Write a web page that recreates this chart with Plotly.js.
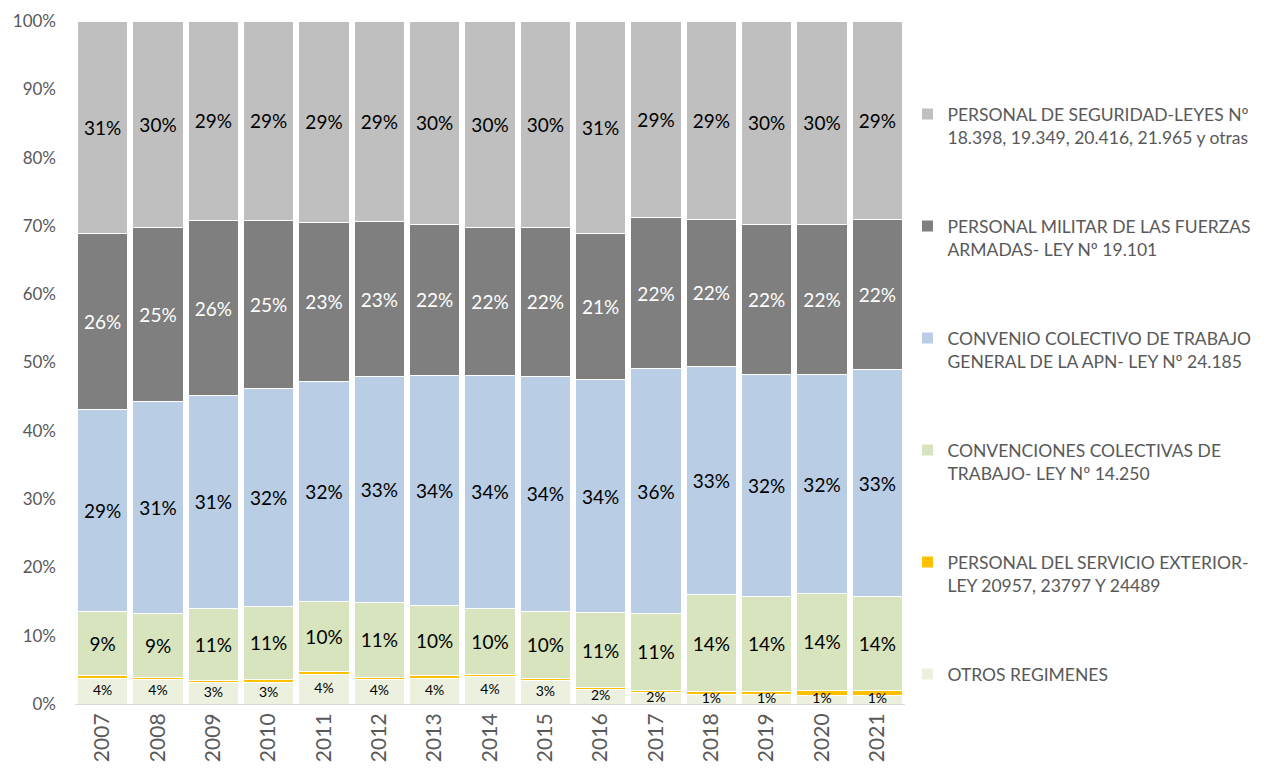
<!DOCTYPE html>
<html>
<head>
<meta charset="utf-8">
<script src="https://cdn.plot.ly/plotly-3.0.1.min.js"></script>
<style>html,body{margin:0;padding:0;background:#fff;}#chart{width:1269px;height:776px;}</style>
</head>
<body>
<div id="chart"></div>
<script>
const years = ['2007','2008','2009','2010','2011','2012','2013','2014','2015','2016','2017','2018','2019','2020','2021'];
const otros        = [3.8, 3.6, 3.1, 3.2, 4.3, 3.6, 3.8, 4.0, 3.45, 2.1, 1.65, 1.45, 1.4, 1.3, 1.25];
const exterior     = [0.35, 0.35, 0.35, 0.4, 0.4, 0.35, 0.4, 0.35, 0.35, 0.35, 0.4, 0.4, 0.4, 0.75, 0.7];
const convenciones = [9.46, 9.35, 10.6, 10.74, 10.27, 10.85, 10.26, 9.66, 9.8, 10.9, 11.15, 14.15, 14.0, 14.15, 13.75];
const apn          = [29.45, 31.0, 31.1, 31.8, 32.2, 33.1, 33.7, 34.1, 34.4, 34.1, 35.9, 33.4, 32.4, 32.0, 33.25];
const militar      = [25.9, 25.4, 25.6, 24.6, 23.4, 22.7, 22.0, 21.7, 21.8, 21.4, 22.1, 21.6, 22.0, 22.0, 21.95];
const seguridad    = [31.04, 30.3, 29.25, 29.26, 29.43, 29.4, 29.84, 30.19, 30.2, 31.15, 28.8, 29.0, 29.8, 29.8, 29.1];

const names = [
  'OTROS REGIMENES',
  'PERSONAL DEL SERVICIO EXTERIOR-<br>LEY 20957, 23797 Y 24489',
  'CONVENCIONES COLECTIVAS DE<br>TRABAJO- LEY Nº 14.250',
  'CONVENIO COLECTIVO DE TRABAJO<br>GENERAL DE LA APN- LEY Nº 24.185',
  'PERSONAL MILITAR DE LAS FUERZAS<br>ARMADAS- LEY Nº 19.101',
  'PERSONAL DE SEGURIDAD-LEYES Nº<br>18.398, 19.349, 20.416, 21.965 y otras'
];
const colors = ['#EBF1DE', '#FFC000', '#D7E4BD', '#B9CDE5', '#7F7F7F', '#BFBFBF'];
const series = [otros, exterior, convenciones, apn, militar, seguridad];
const textColors = ['#000000', '#000000', '#000000', '#000000', '#FFFFFF', '#000000'];
const textSizes = [14, 14, 19, 19, 19, 19];

const FONT = 'Lato, "Open Sans", sans-serif';

const traces = series.map((vals, i) => ({
  type: 'bar',
  x: years,
  y: vals,
  name: names[i],
  legendgroup: 'g' + i,
  legendrank: 10 - i,
  marker: {color: colors[i], line: {color: '#FFFFFF', width: 1}},
  texttemplate: (i <= 1) ? '' : '%{y:.0f}%',
  textposition: (i <= 1) ? 'none' : 'inside',
  insidetextanchor: 'middle',
  textangle: 0,
  textfont: {family: FONT, size: textSizes[i], color: textColors[i]},
  hoverinfo: 'skip'
}));

// labels of the thin bottom segment, centred in it and allowed to overflow
traces.push({
  type: 'scatter',
  mode: 'text',
  x: years,
  y: otros.map(v => v / 2),
  text: otros.map(v => Math.round(v) + '%'),
  textposition: 'middle center',
  textfont: {family: FONT, size: 14, color: '#000000'},
  showlegend: false,
  hoverinfo: 'skip'
});

const layout = {
  width: 1269, height: 776,
  barmode: 'stack',
  bargap: 0.09,
  paper_bgcolor: '#FFFFFF',
  plot_bgcolor: '#FFFFFF',
  margin: {l: 75, r: 364, t: 21, b: 72, pad: 0},
  font: {family: FONT, color: '#595959'},
  xaxis: {
    type: 'category',
    range: [-0.5, years.length - 0.5],
    tickangle: -90,
    tickfont: {family: FONT, size: 21, color: '#595959'},
    showline: true, linecolor: '#D9D9D9', linewidth: 1,
    ticks: '', showgrid: false, zeroline: false,
    fixedrange: true
  },
  yaxis: {
    range: [0, 100],
    dtick: 10,
    ticksuffix: '%',
    tickfont: {family: FONT, size: 17, color: '#595959'},
    ticklabelstandoff: 18,
    showgrid: false, zeroline: false, showline: false, ticks: '',
    fixedrange: true
  },
  showlegend: true,
  legend: {
    x: 1.003, xanchor: 'left',
    y: 0.89, yanchor: 'top',
    traceorder: 'grouped',
    tracegroupgap: 63.5,
    valign: 'top',
    font: {family: FONT, size: 17.5, color: '#595959'},
    itemwidth: 30
  },
  hovermode: false
};

Plotly.newPlot('chart', traces, layout, {displayModeBar: false, staticPlot: true});
</script>
</body>
</html>
